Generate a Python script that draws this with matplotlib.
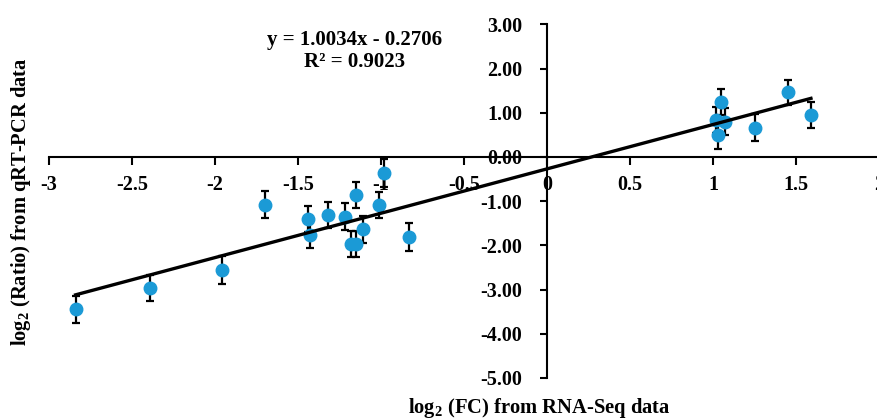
import matplotlib
matplotlib.use("Agg")
import matplotlib.pyplot as plt
import numpy as np

plt.rcParams['font.family'] = ['Liberation Serif', 'DejaVu Serif']
plt.rcParams['font.weight'] = 'bold'
plt.rcParams['axes.unicode_minus'] = False
plt.rcParams['mathtext.fontset'] = 'custom'
plt.rcParams['mathtext.rm'] = 'Liberation Serif:bold'
plt.rcParams['mathtext.bf'] = 'Liberation Serif:bold'

# log2 fold change (RNA-Seq) vs log2 ratio (qRT-PCR)
rnaseq_fc = [-2.84, -2.39, -1.96, -1.70, -1.44, -1.43, -1.32, -1.22, -1.15, -1.18,
             -1.15, -1.11, -1.01, -0.98, -0.83, 1.03, 1.02, 1.05, 1.07, 1.25, 1.45, 1.59]
qpcr_ratio = [-3.45, -2.97, -2.56, -1.08, -1.41, -1.76, -1.32, -1.35, -0.86, -1.97,
              -1.97, -1.64, -1.09, -0.36, -1.81, 0.49, 0.84, 1.24, 0.80, 0.66, 1.46, 0.95]
qpcr_err = [0.30, 0.30, 0.31, 0.31, 0.29, 0.30, 0.29, 0.30, 0.30, 0.30,
            0.30, 0.30, 0.29, 0.31, 0.31, 0.30, 0.30, 0.30, 0.30, 0.30, 0.29, 0.30]

# linear trend
slope, intercept, r2 = 1.0034, -0.2706, 0.9023

x_ticks = [-3, -2.5, -2, -1.5, -1, -0.5, 0, 0.5, 1, 1.5, 2]
x_labels = ['-3', '-2.5', '-2', '-1.5', '-1', '-0.5', '0', '0.5', '1', '1.5', '2']
y_ticks = [3, 2, 1, 0, -1, -2, -3, -4, -5]
y_labels = ['3.00', '2.00', '1.00', '0.00', '-1.00', '-2.00', '-3.00', '-4.00', '-5.00']

fig = plt.figure(figsize=(8.77, 4.19), dpi=100)
ax = fig.add_axes([0.0559, 0.098, 0.9464, 0.844])

ax.errorbar(rnaseq_fc, qpcr_ratio, yerr=qpcr_err, fmt='o', color='#1B9AD6',
            markersize=9, ecolor='black', elinewidth=1.6, capsize=3.2, capthick=1.6,
            zorder=3)

xs = np.array([min(rnaseq_fc), max(rnaseq_fc)])
ax.plot(xs, slope * xs + intercept, color='black', lw=2.4, zorder=4)

ax.set_xlim(-3, 2)
ax.set_ylim(-5, 3)

# axes cross at the origin
ax.spines['left'].set_position(('data', 0))
ax.spines['bottom'].set_position(('data', 0))
ax.spines['top'].set_visible(False)
ax.spines['right'].set_visible(False)
ax.spines['left'].set_linewidth(1.5)
ax.spines['bottom'].set_linewidth(1.5)

ax.set_xticks(x_ticks)
ax.set_xticklabels(x_labels)
ax.set_yticks(y_ticks)
ax.set_yticklabels(y_labels)
ax.tick_params(axis='x', direction='out', length=6, width=1.5, pad=7, labelsize=14.5)
ax.tick_params(axis='y', direction='out', length=5, width=1.5, pad=13, labelsize=14.5)

ax.text(-1.157, 2.645, 'y = 1.0034x - 0.2706', ha='center', va='center', fontsize=15)
ax.text(-1.157, 2.147, 'R² = 0.9023', ha='center', va='center', fontsize=15)

fig.text(0.615, 0.014, r'log$_{2}$ (FC) from RNA-Seq data', ha='center', va='baseline',
         fontsize=14.8)
fig.text(0.024, 0.518, r'log$_{2}$ (Ratio) from qRT-PCR data', ha='center', va='center',
         rotation=90, fontsize=14.8)

fig.savefig('out.png', dpi=100)
